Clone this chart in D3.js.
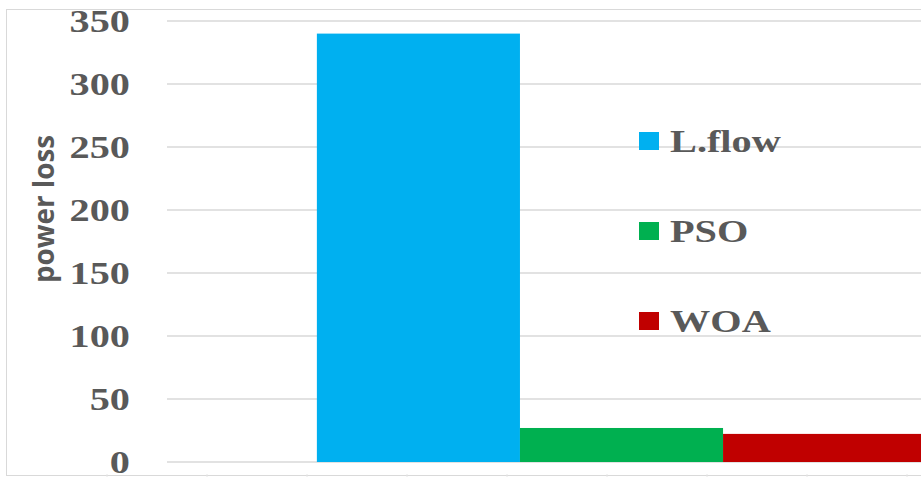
<!DOCTYPE html>
<html>
<head>
<meta charset="utf-8">
<script src="https://cdn.jsdelivr.net/npm/d3@7"></script>
<style>
  html, body { margin: 0; padding: 0; background: #fff; overflow: hidden; }
  svg { display: block; }
</style>
</head>
<body>
<svg id="viz" width="921" height="478"></svg>
<script>
// data
var categories = ["power loss"]
var seriesNames = ["L.flow", "PSO", "WOA"]
var seriesValues = [340, 27, 22.3]
var seriesColors = ["#00B0F0", "#00B050", "#C00000"]
var yTicks = [0, 50, 100, 150, 200, 250, 300, 350]

let svgW = 921, svgH = 478
let plot = {left: 167, right: 1076, top: 21, bottom: 462}
let stretch = 1.26   // the picture is wider than it is tall
let grey = "#595959"
let gridColor = "#d9d9d9"
let viz = d3.select("#viz")

// chart frame
viz.append("rect")
    .attr("x", 6.5).attr("y", 9.5)
    .attr("width", 940).attr("height", 466)
    .style("fill", "none")
    .style("stroke", gridColor)
    .style("stroke-width", 1)

let y = d3.scaleLinear().domain([0, 350]).range([plot.bottom, plot.top])
let x0 = d3.scaleBand().domain(categories).range([plot.left, plot.right]).paddingInner(0).paddingOuter(0.246)
let x1 = d3.scaleBand().domain(seriesNames).range([0, x0.bandwidth()])
let color = d3.scaleOrdinal().domain(seriesNames).range(seriesColors)

// gridlines
viz.append("g").attr("id", "grid")
    .selectAll("line")
    .data(yTicks)
    .enter().append("line")
    .attr("x1", plot.left).attr("x2", svgW)
    .attr("y1", d => y(d)).attr("y2", d => y(d))
    .style("stroke", gridColor)
    .style("stroke-width", 1.5)

// tick labels
viz.append("g").attr("id", "yticks")
    .selectAll("text")
    .data(yTicks)
    .enter().append("text")
    .attr("transform", d => `translate(130,${y(d) + 11}) scale(${stretch},1)`)
    .attr("text-anchor", "end")
    .style("font-family", "'Liberation Serif', 'Times New Roman', serif")
    .style("font-weight", "bold")
    .style("font-size", "32px")
    .style("fill", grey)
    .text(d => d)

// bars
let data = seriesNames.map((name, i) => ({name: name, value: seriesValues[i]}))
viz.append("g").attr("id", "bars")
    .selectAll("rect")
    .data(data)
    .enter().append("rect")
    .attr("x", d => x0(categories[0]) + x1(d.name))
    .attr("y", d => y(d.value))
    .attr("width", x1.bandwidth())
    .attr("height", d => y(0) - y(d.value))
    .style("fill", d => color(d.name))

// y axis title
viz.append("text")
    .attr("transform", `translate(54,209) scale(${stretch},1) rotate(-90)`)
    .attr("text-anchor", "middle")
    .attr("textLength", 148)
    .attr("lengthAdjust", "spacingAndGlyphs")
    .style("font-family", "'Open Sans', 'Liberation Sans', sans-serif")
    .style("font-weight", "bold")
    .style("font-size", "22px")
    .style("fill", grey)
    .text("power loss")

// legend
let legend = viz.append("g").attr("id", "legend")
    .selectAll("g")
    .data(seriesNames)
    .enter().append("g")
    .attr("transform", (d, i) => `translate(639,${141 + i * 90})`)

legend.append("rect")
    .attr("x", 0).attr("y", -9)
    .attr("width", 20).attr("height", 18)
    .style("fill", d => color(d))

legend.append("text")
    .attr("transform", `translate(31,11) scale(${stretch},1)`)
    .style("font-family", "'Liberation Serif', 'Times New Roman', serif")
    .style("font-weight", "bold")
    .style("font-size", "32px")
    .style("fill", grey)
    .text(d => d)

// faint marks along the bottom edge
viz.append("g")
    .selectAll("line")
    .data(d3.range(107, svgW, 100))
    .enter().append("line")
    .attr("x1", d => d).attr("x2", d => d)
    .attr("y1", 474).attr("y2", 477)
    .style("stroke", "#e6e6e6")
</script>
</body>
</html>
